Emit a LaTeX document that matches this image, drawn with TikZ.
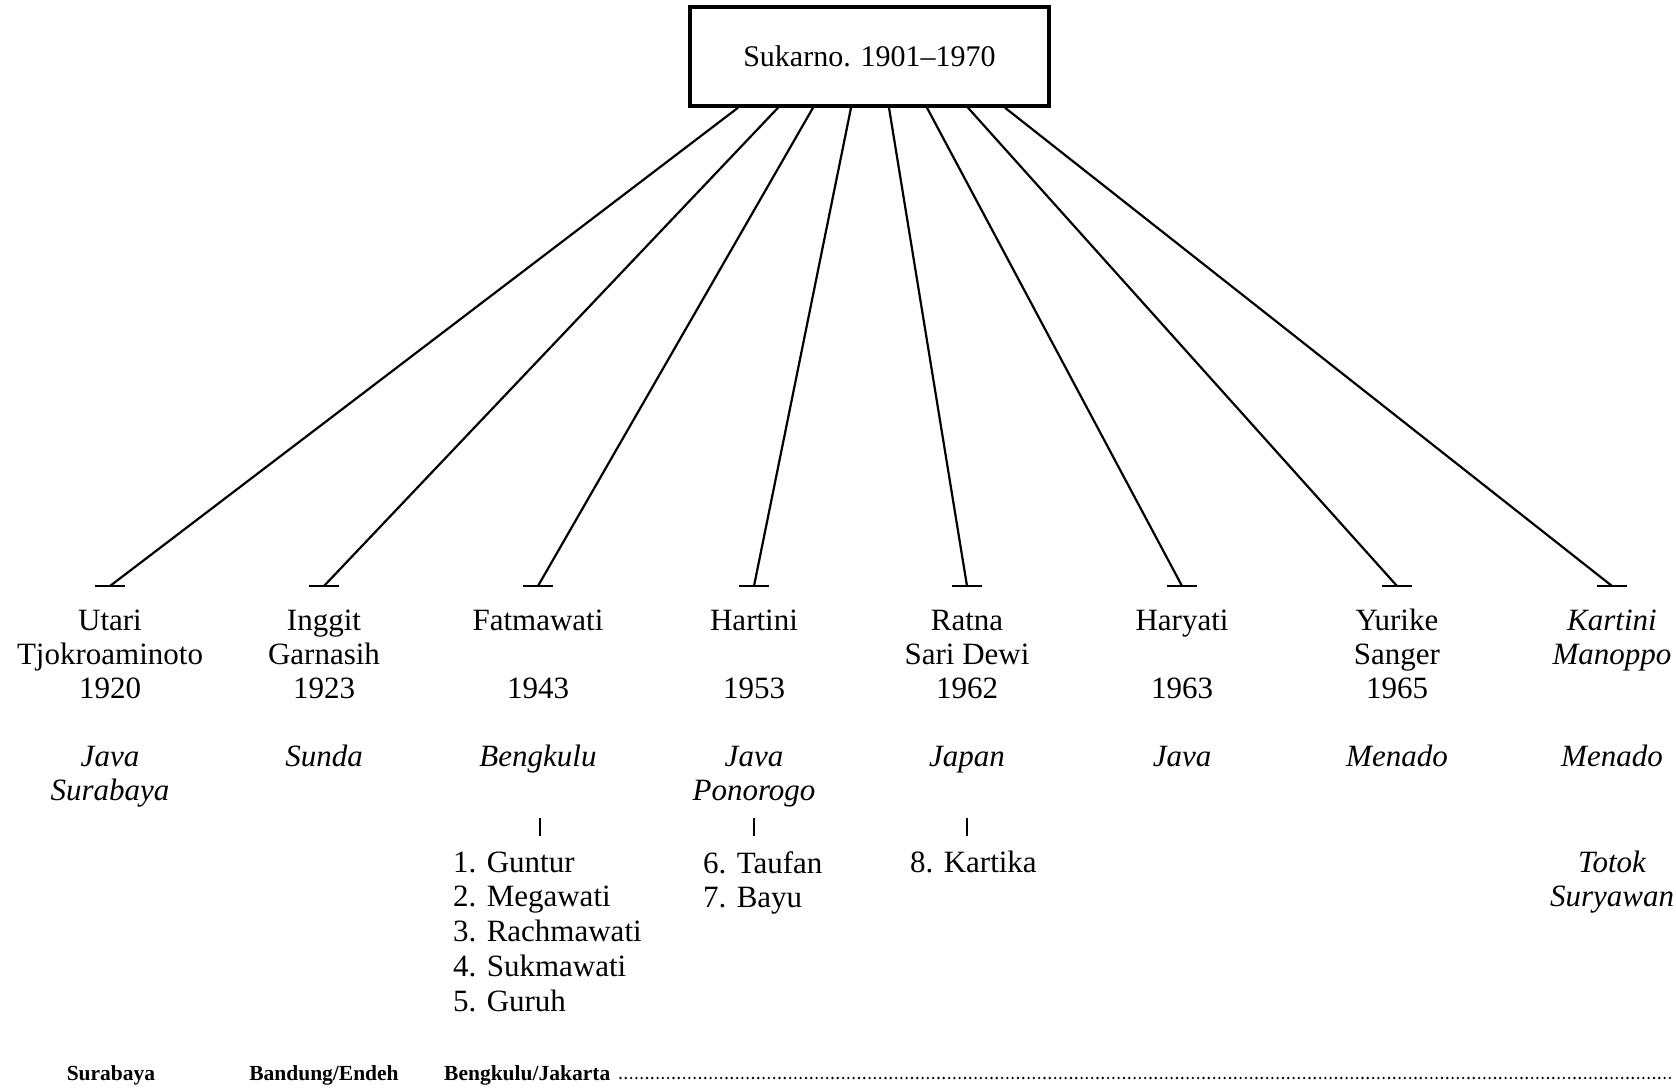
\documentclass[tikz,border=0pt]{standalone}
\usepackage{fontspec}
\setmainfont{Liberation Serif}
\newcommand\hstrut{\rule{0pt}{21pt}}
\tikzset{
  big/.style={font=\fontsize{31}{34}\selectfont, inner sep=0pt, align=center, anchor=north},
  plc/.style={font=\fontsize{31}{34}\selectfont\itshape, inner sep=0pt, align=center, anchor=north},
  kids/.style={font=\fontsize{31}{34.75}\selectfont, inner sep=0pt, align=left, anchor=north west},
  bot/.style={font=\fontsize{21.5}{25}\selectfont\bfseries, inner sep=0pt, anchor=base},
  conn/.style={line width=2.2pt},
  barl/.style={line width=2.2pt},
  tick/.style={line width=2pt},
  dots/.style={line width=2.6pt, line cap=round, dash pattern=on 0pt off 5.3pt}
}
\begin{document}
\begin{tikzpicture}[x=1pt,y=-1pt]
\fill[white] (0,0) rectangle (1676,1089);
\useasboundingbox (0,0) rectangle (1676,1089);

% main box
\node[draw, line width=3.5pt, minimum width=359pt, minimum height=99pt, inner sep=0pt,
      font=\fontsize{30}{34}\selectfont] (sk) at (869.5,56.5) {Sukarno. 1901–1970};

% bar coordinates
\coordinate (b1) at (110,586);
\coordinate (b2) at (324,586);
\coordinate (b3) at (538,586);
\coordinate (b4) at (754,586);
\coordinate (b5) at (967,586);
\coordinate (b6) at (1182,586);
\coordinate (b7) at (1397,586);
\coordinate (b8) at (1612,586);

\foreach \b in {b1,b2,b3,b4,b5,b6,b7,b8}
  \draw[barl] ([xshift=-15pt]\b) -- ([xshift=15pt]\b);

\draw[conn] ([xshift=-131.5pt]sk.south) -- (b1);
\draw[conn] ([xshift=-91.5pt]sk.south) -- (b2);
\draw[conn] ([xshift=-56.5pt]sk.south) -- (b3);
\draw[conn] ([xshift=-18.5pt]sk.south) -- (b4);
\draw[conn] ([xshift=19.5pt]sk.south) -- (b5);
\draw[conn] ([xshift=57.5pt]sk.south) -- (b6);
\draw[conn] ([xshift=98.5pt]sk.south) -- (b7);
\draw[conn] ([xshift=135.5pt]sk.south) -- (b8);

% names (first baseline 630)
\node[big] (n1) at (110,609) {\hstrut Utari\\Tjokroaminoto\\1920};
\node[big] (n2) at (324,609) {\hstrut Inggit\\Garnasih\\1923};
\node[big] (n3) at (538,609) {\hstrut Fatmawati\\[34pt]1943};
\node[big] (n4) at (754,609) {\hstrut Hartini\\[34pt]1953};
\node[big] (n5) at (967,609) {\hstrut Ratna\\Sari Dewi\\1962};
\node[big] (n6) at (1182,609) {\hstrut Haryati\\[34pt]1963};
\node[big] (n7) at (1397,609) {\hstrut Yurike\\Sanger\\1965};
\node[plc] (n8) at (1612,609) {\hstrut Kartini\\Manoppo};

% places (baseline 766)
\node[plc] (p1) at (110,745) {\hstrut Java\\Surabaya};
\node[plc] (p2) at (324,745) {\hstrut Sunda};
\node[plc] (p3) at (538,745) {\hstrut Bengkulu};
\node[plc] (p4) at (754,745) {\hstrut Java\\Ponorogo};
\node[plc] (p5) at (967,745) {\hstrut Japan};
\node[plc] (p6) at (1182,745) {\hstrut Java};
\node[plc] (p7) at (1397,745) {\hstrut Menado};
\node[plc] (p8) at (1612,745) {\hstrut Menado};

% ticks
\coordinate (t3a) at (540,818); \coordinate (t3b) at (540,836);
\coordinate (t4a) at (754,818); \coordinate (t4b) at (754,836);
\coordinate (t5a) at (967,818); \coordinate (t5b) at (967,836);
\draw[tick] (t3a) -- (t3b);
\draw[tick] (t4a) -- (t4b);
\draw[tick] (t5a) -- (t5b);

% children (baseline 872)
\node[kids] (c3) at (453,851) {\hstrut 1. Guntur\\2. Megawati\\3. Rachmawati\\4. Sukmawati\\5. Guruh};
\node[kids] (c4) at (703,851) {\hstrut 6. Taufan\\7. Bayu};
\node[kids] (c5) at (910,851) {\hstrut 8. Kartika};
\node[plc] (c8) at (1612,851) {\hstrut Totok\\Suryawan};

% bottom row
\node[bot] (s1) at (111,1080) {Surabaya};
\node[bot] (s2) at (324,1080) {Bandung/Endeh};
\node[bot, anchor=base west] (s3) at (444,1080) {Bengkulu/Jakarta};
\coordinate (dotstart) at ([xshift=10pt]s3.base east);
\coordinate (dotend) at (1673,1078);
\draw[dots] (dotstart |- dotend) -- (dotend);
\end{tikzpicture}
\end{document}
